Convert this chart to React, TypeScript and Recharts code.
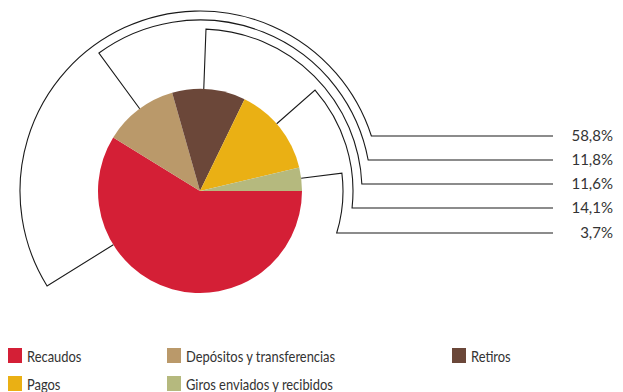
import React from "react";
import { PieChart, Pie, Cell, Legend } from "recharts";

const categories = ["Recaudos", "Depósitos y transferencias", "Retiros", "Pagos", "Giros enviados y recibidos"];
const shares = [58.8, 11.8, 11.6, 14.1, 3.7];
const colors = ["#D41F36", "#BA996A", "#6B4739", "#EAB014", "#B5B97E"];

const data = categories.map((name, i) => ({ name, value: shares[i] }));

// callout layout (chart coords)
const CX = 192;
const CY = 183;
const calloutRadius = [180, 171, 162, 153, 143];
const calloutY = [128, 152, 176, 200, 225];
const anchorFrac = [0.7, 0.52, 0.43, 0.45, 0.46];
const LINE_END = 545;
const TEXT_X = 605;
const FONT = "Lato, sans-serif";

const RAD = Math.PI / 180;

const renderCallout = (props: any) => {
  const { cx, cy, outerRadius, startAngle, endAngle, index, value } = props;
  const r = calloutRadius[index];
  const y = calloutY[index];
  const a0 = startAngle + anchorFrac[index] * (endAngle - startAngle);
  const a1 = Math.asin((cy - y) / r) / RAD;
  const p0x = cx + outerRadius * Math.cos(a0 * RAD);
  const p0y = cy - outerRadius * Math.sin(a0 * RAD);
  const p1x = cx + r * Math.cos(a0 * RAD);
  const p1y = cy - r * Math.sin(a0 * RAD);
  const p2x = cx + r * Math.cos(a1 * RAD);
  const p2y = cy - r * Math.sin(a1 * RAD);
  const delta = (((a0 - a1) % 360) + 360) % 360;
  const large = delta > 180 ? 1 : 0;
  const d = `M${p0x},${p0y} L${p1x},${p1y} A${r},${r} 0 ${large} 1 ${p2x},${p2y} L${LINE_END},${p2y}`;
  return (
    <g key={`callout-${index}`}>
      <path d={d} fill="none" stroke="#1a1a1a" strokeWidth={1.1} />
      <text x={TEXT_X} y={y} dy={5} textAnchor="end" fontSize={15} fill="#333" fontFamily={FONT}>
        {value.toFixed(1).replace(".", ",")}%
      </text>
    </g>
  );
};

const legendCols = [0, 159, 444];
const legendRows = [337, 365];

const renderLegend = () => (
  <div style={{ position: "relative", width: 615, height: 50 }}>
    {categories.map((name, i) => {
      const col = i % 3;
      const row = Math.floor(i / 3);
      return (
        <div
          key={name}
          style={{
            position: "absolute",
            left: legendCols[col],
            top: legendRows[row] - 337,
            display: "flex",
            alignItems: "center",
            fontFamily: FONT,
            fontSize: 15,
            color: "#333",
            whiteSpace: "nowrap",
          }}
        >
          <span style={{ display: "inline-block", width: 14, height: 15, background: colors[i], marginRight: 5 }} />
          <span
            style={{
              lineHeight: "17px",
              paddingTop: 3,
              display: "inline-block",
              transform: "scaleX(0.86)",
              transformOrigin: "left center",
            }}
          >
            {name}
          </span>
        </div>
      );
    })}
  </div>
);

export default function App() {
  return (
    <PieChart width={615} height={384} margin={{ top: 0, right: 0, bottom: 0, left: 0 }}>
      <Pie
        data={data}
        dataKey="value"
        nameKey="name"
        cx={CX}
        cy={CY}
        outerRadius={102}
        startAngle={0}
        endAngle={-360}
        stroke="none"
        label={renderCallout}
        labelLine={false}
        isAnimationActive={false}
      >
        {data.map((d, i) => (
          <Cell key={d.name} fill={colors[i]} />
        ))}
      </Pie>
      <Legend
        content={renderLegend}
        wrapperStyle={{ position: "absolute", left: 0, top: 337, width: 615, height: 50 }}
      />
    </PieChart>
  );
}
